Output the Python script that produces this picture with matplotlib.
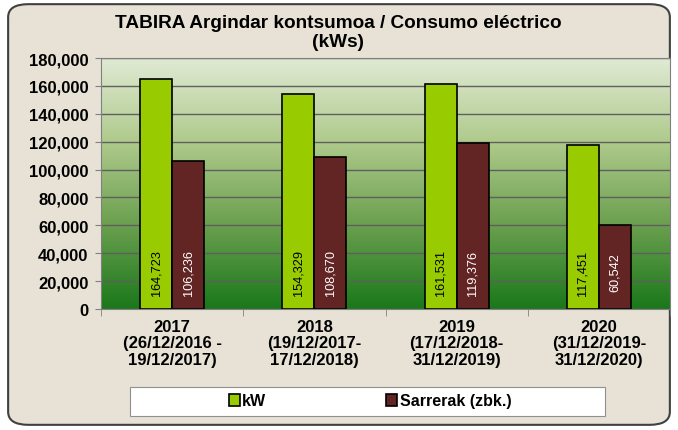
import numpy as np
import matplotlib
matplotlib.use("Agg")
import matplotlib.pyplot as plt
from matplotlib.patches import FancyBboxPatch, Rectangle
from matplotlib.colors import LinearSegmentedColormap

plt.rcParams['font.family'] = ['Liberation Sans', 'DejaVu Sans']

# Datos
categories = ["2017\n(26/12/2016 -\n19/12/2017)", "2018\n(19/12/2017-\n17/12/2018)",
              "2019\n(17/12/2018-\n31/12/2019)", "2020\n(31/12/2019-\n31/12/2020)"]
kw = [164723, 154329, 161531, 117451]
sarrerak = [106236, 108670, 119376, 60542]
series_names = ["kW", "Sarrerak (zbk.)"]
yticks = list(range(0, 180001, 20000))

green = "#99cc00"
maroon = "#632523"

fig = plt.figure(figsize=(6.78, 4.31), dpi=100)
fig.patch.set_facecolor("white")

# Fondo beige con borde redondeado
bg = FancyBboxPatch((0.012, 0.012), 0.976, 0.976, boxstyle="round,pad=0,rounding_size=0.03",
                    transform=fig.transFigure, facecolor="#e7e2d5", edgecolor="#404040",
                    linewidth=1.5, zorder=-10)
fig.patches.append(bg)

# Caja de la leyenda
fig.patches.append(Rectangle((130 / 678, 1 - 417 / 431), 475 / 678, 29 / 431,
                             transform=fig.transFigure, facecolor="white",
                             edgecolor="#909090", linewidth=0.8, zorder=-5))

ax = fig.add_axes([101 / 678, 1 - 310 / 431, 569 / 678, 251 / 431])
ax.set_zorder(2)

# Gradiente del área del gráfico
cmap = LinearSegmentedColormap.from_list("bg", ["#1a781a", "#6a9f4e", "#afca8c", "#e0ead4"])
grad = np.linspace(0, 1, 256).reshape(-1, 1)
ax.imshow(grad, aspect="auto", cmap=cmap, origin="lower",
          extent=[0, 1, 0, 1], transform=ax.transAxes, zorder=0)

x = np.arange(len(categories))
w = 0.225
b1 = ax.bar(x - w / 2, kw, w, color=green, edgecolor="black", linewidth=1.2,
            label=series_names[0], zorder=3)
b2 = ax.bar(x + w / 2, sarrerak, w, color=maroon, edgecolor="black", linewidth=1.2,
            label=series_names[1], zorder=3)

for bars, col in ((b1, "black"), (b2, "white")):
    for r in bars:
        ax.text(r.get_x() + r.get_width() / 2, 26500, f"{int(r.get_height()):,}",
                rotation=90, ha="center", va="center", fontsize=9.2, color=col, zorder=4)

ax.set_xlim(-0.5, len(categories) - 0.5)
ax.set_ylim(0, 180000)
ax.set_yticks(yticks)
ax.set_yticklabels([f"{v:,}" for v in yticks], fontsize=12, fontweight="bold")
ax.yaxis.grid(True, color="#5f5f5f", linewidth=1, zorder=1)

ax.set_xticks(x)
ax.set_xticklabels(categories, fontsize=12, fontweight="bold", linespacing=1.12)
ax.tick_params(axis="x", length=0, pad=7)
ax.set_xticks(np.arange(-0.5, len(categories)), minor=True)
ax.tick_params(axis="x", which="minor", length=5, color="#808080")
ax.tick_params(axis="y", length=4, color="#808080", pad=5)

for s in ax.spines.values():
    s.set_color("#808080")
    s.set_zorder(5)

fig.text(338 / 678, 1 - 33 / 431, "TABIRA Argindar kontsumoa / Consumo eléctrico\n(kWs)",
         ha="center", va="center", fontsize=13.7, fontweight="bold", linespacing=1.12)

fig.legend(handles=[b1, b2], loc="center", bbox_to_anchor=(370 / 678, 1 - 402 / 431),
           ncol=2, frameon=False, prop={"size": 11.5, "weight": "bold"},
           handlelength=0.7, handleheight=0.7, handletextpad=0.15, columnspacing=7.5)

fig.savefig("out.png", dpi=100)
